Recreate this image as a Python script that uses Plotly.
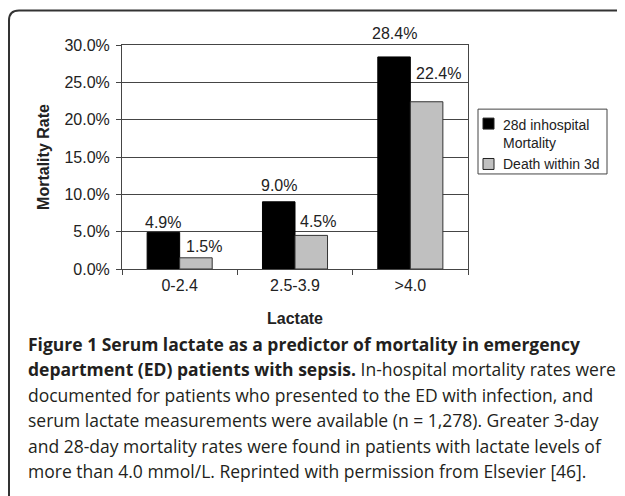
import plotly.graph_objects as go

# ---- data ----
categories = ["0-2.4", "2.5-3.9", ">4.0"]
mortality_28d = [0.049, 0.090, 0.284]
death_3d = [0.015, 0.045, 0.224]
series_names = ["28d inhospital<br>Mortality", "Death within 3d"]
series_colors = ["#000000", "#c0c0c0"]
y_tick_values = [0, 0.05, 0.10, 0.15, 0.20, 0.25, 0.30]

caption_lines = [
    "<b>Figure 1 Serum lactate as a predictor of mortality in emergency</b>",
    "<b>department (ED) patients with sepsis.</b> In-hospital mortality rates were",
    "documented for patients who presented to the ED with infection, and",
    "serum lactate measurements were available (n = 1,278). Greater 3-day",
    "and 28-day mortality rates were found in patients with lactate levels of",
    "more than 4.0 mmol/L. Reprinted with permission from Elsevier [46].",
]

# ---- layout constants (page pixels; the page body adds an 8px offset) ----
OFF = 8
W, H = 625 - OFF, 496 - OFF
PLOT_L, PLOT_R, PLOT_T, PLOT_B = 122, 468, 44.7, 269.3   # page coords
ML = PLOT_L - OFF
MT = PLOT_T - OFF
MR = W - (PLOT_R - OFF)
MB = H - (PLOT_B - OFF)
PW, PH = PLOT_R - PLOT_L, PLOT_B - PLOT_T


def px_x(p):
    return (p - PLOT_L) / PW


def px_y(p):
    return (PLOT_B - p) / PH


AX = "#454545"
FONT = "Liberation Sans, Arial, sans-serif"
TXT = "#222222"

fig = go.Figure()
fig.add_trace(go.Bar(x=categories, y=mortality_28d, name=series_names[0], showlegend=False,
                     marker=dict(color=series_colors[0], line=dict(color="#000000", width=1))))
fig.add_trace(go.Bar(x=categories, y=death_3d, name=series_names[1], showlegend=False,
                     marker=dict(color=series_colors[1], line=dict(color="#333333", width=1))))

# data labels (offsets in px: style only)
half_bar = 16.25
black_dy = [10, 16, 23]
gray_dy = [11, 14, 28]
gray_dx = [8, 7, 12]
annotations = []
for i, c in enumerate(categories):
    annotations.append(dict(x=c, y=mortality_28d[i], xref="x", yref="y", text=f"{mortality_28d[i]:.1%}",
                            showarrow=False, xshift=-half_bar, yshift=black_dy[i], yanchor="middle",
                            font=dict(family=FONT, size=16, color=TXT)))
    annotations.append(dict(x=c, y=death_3d[i], xref="x", yref="y", text=f"{death_3d[i]:.1%}",
                            showarrow=False, xshift=half_bar + gray_dx[i], yshift=gray_dy[i], yanchor="middle",
                            font=dict(family=FONT, size=16, color=TXT)))

# legend (drawn as box + swatches + labels)
shapes = []
leg_l, leg_r, leg_t, leg_b = 478, 607, 109, 174
shapes.append(dict(type="rect", xref="paper", yref="paper",
                   x0=px_x(leg_l), x1=px_x(leg_r), y0=px_y(leg_b), y1=px_y(leg_t),
                   line=dict(color="#444444", width=1), fillcolor="white"))
sw_x0, sw_size = 483, 11
sw_centers = [123.5, 164]
lab_tops = [115, None]
for k, name in enumerate(series_names):
    cy = sw_centers[k]
    shapes.append(dict(type="rect", xref="paper", yref="paper",
                       x0=px_x(sw_x0), x1=px_x(sw_x0 + sw_size),
                       y0=px_y(cy + sw_size / 2), y1=px_y(cy - sw_size / 2),
                       line=dict(color="#222222", width=1), fillcolor=series_colors[k]))
    if lab_tops[k] is not None:
        annotations.append(dict(x=px_x(501), y=px_y(lab_tops[k]), xref="paper", yref="paper",
                                text=name, showarrow=False, xanchor="left", yanchor="top", align="left",
                                font=dict(family=FONT, size=14, color=TXT)))
    else:
        annotations.append(dict(x=px_x(501), y=px_y(cy), xref="paper", yref="paper",
                                text=name, showarrow=False, xanchor="left", yanchor="middle", align="left",
                                font=dict(family=FONT, size=14, color=TXT)))

# caption
cap_y0, cap_dy = 344, 25.6
for k, line in enumerate(caption_lines):
    annotations.append(dict(x=px_x(26), y=px_y(cap_y0 + k * cap_dy), xref="paper", yref="paper",
                            text=line, showarrow=False, xanchor="left", yanchor="middle", align="left",
                            font=dict(family="Open Sans, sans-serif", size=17.5, color="#231f20")))

# rounded frame (right and bottom edges fall outside the picture)
l, t, r, b, rad = 9, 10, 634, 520, 10
path = (f"M {px_x(l)},{px_y(b)} L {px_x(l)},{px_y(t + rad)} "
        f"Q {px_x(l)},{px_y(t)} {px_x(l + rad)},{px_y(t)} "
        f"L {px_x(r - rad)},{px_y(t)} Q {px_x(r)},{px_y(t)} {px_x(r)},{px_y(t + rad)} "
        f"L {px_x(r)},{px_y(b)}")
shapes.append(dict(type="path", path=path, xref="paper", yref="paper",
                   line=dict(color="#333333", width=2), layer="above"))

fig.update_layout(
    width=W, height=H,
    margin=dict(l=ML, r=MR, t=MT, b=MB, autoexpand=False),
    paper_bgcolor="white", plot_bgcolor="white",
    barmode="group", bargap=0.436, bargroupgap=0,
    font=dict(family=FONT, size=16, color=TXT),
    showlegend=False,
    annotations=annotations,
    shapes=shapes,
)

fig.update_xaxes(
    type="category", showline=True, linecolor=AX, linewidth=1, mirror=True,
    ticks="outside", ticklen=5, tickcolor=AX, tickson="boundaries", ticklabelstandoff=2,
    tickfont=dict(family=FONT, size=16, color=TXT),
    title=dict(text="<b>Lactate</b>", font=dict(family=FONT, size=16, color=TXT), standoff=19),
    showgrid=False, automargin=False,
)
fig.update_yaxes(
    range=[0, 0.30], tickvals=y_tick_values, tickformat=".1%",
    showline=True, linecolor=AX, linewidth=1, mirror=True,
    ticks="outside", ticklen=5, tickcolor=AX, ticklabelstandoff=3,
    showgrid=True, gridcolor=AX, gridwidth=1, zeroline=False,
    tickfont=dict(family=FONT, size=16, color=TXT),
    title=dict(text="<b>Mortality Rate</b>", font=dict(family=FONT, size=16, color=TXT), standoff=10),
    automargin=False,
)

fig.write_html("out.html")
